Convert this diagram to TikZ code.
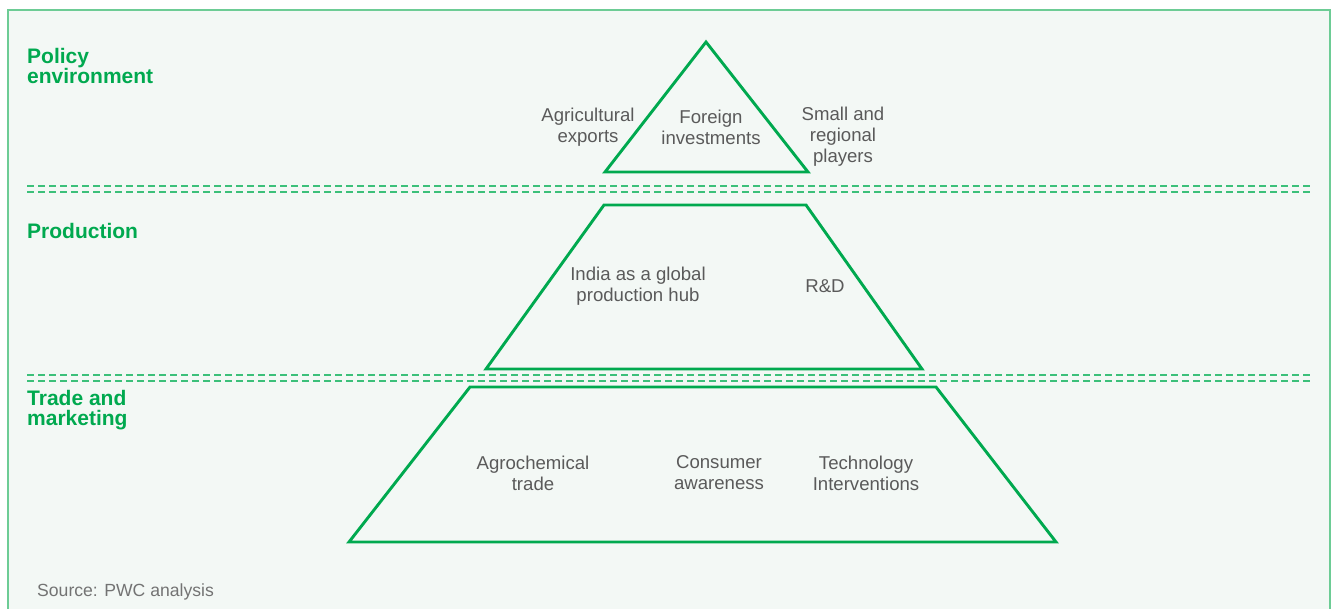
\documentclass[tikz,border=0pt]{standalone}
\usepackage{fontspec}
\setmainfont{Liberation Sans}
\definecolor{bgc}{HTML}{F3F8F5}
\definecolor{framec}{HTML}{6DCC95}
\definecolor{pgreen}{HTML}{00A94F}
\definecolor{dgreen}{HTML}{3CC07A}
\definecolor{tgrey}{HTML}{5A5A5A}
\definecolor{sgrey}{HTML}{737373}
\begin{document}
\begin{tikzpicture}[x=1pt,y=-1pt,
  shapeline/.style={draw=pgreen,line width=2.9pt,line join=miter},
  sepline/.style={draw=dgreen,line width=1.4pt,dash pattern=on 7pt off 4pt},
  heading/.style={text=pgreen,font=\fontsize{21}{20}\selectfont\bfseries,align=left,anchor=west,inner sep=0pt},
  body/.style={text=tgrey,font=\fontsize{18.6}{21}\selectfont,align=center,inner sep=0pt}]
\useasboundingbox (0,0) rectangle (1332,609);
\begin{scope}
\clip (0,0) rectangle (1332,609);
\fill[bgc] (8,10) rectangle (1330,620);
\draw[framec,line width=1.8pt] (8,620) -- (8,10) -- (1330,10) -- (1330,620);
\end{scope}
% separators
\draw[sepline] (27,186) -- (1310,186);
\draw[sepline] (27,192) -- (1310,192);
\draw[sepline] (27,375) -- (1310,375);
\draw[sepline] (27,381) -- (1310,381);
% shapes
\draw[shapeline] (706,42) -- (808,172) -- (605,172) -- cycle;
\draw[shapeline] (604,205) -- (806,205) -- (922,369) -- (486,369) -- cycle;
\draw[shapeline] (470,387) -- (936,387) -- (1056,542) -- (349,542) -- cycle;
% headings
\node[heading] (h1) at (27,66) {Policy\\environment};
\node[heading] (h2) at (27,231) {Production};
\node[heading] (h3) at (27,410) {Trade and\\marketing};
% body texts
\node[body] (t1) at (588,127) {Agricultural\\exports};
\node[body] (t2) at (711,127) {Foreign\\investments};
\node[body] (t3) at (843,137) {Small and\\regional\\players};
\node[body] (t4) at (638,286) {India as a global\\production hub};
\node[body] (t5) at (825,286) {R\&D};
\node[body] (t6) at (533,473) {Agrochemical\\trade};
\node[body] (t7) at (719,473) {Consumer\\awareness};
\node[body] (t8) at (866,473) {Technology\\Interventions};
\node[text=sgrey,font=\fontsize{17.6}{19}\selectfont,anchor=west,inner sep=0pt] (src) at (37,592) {Source: PWC analysis};
\end{tikzpicture}
\end{document}
